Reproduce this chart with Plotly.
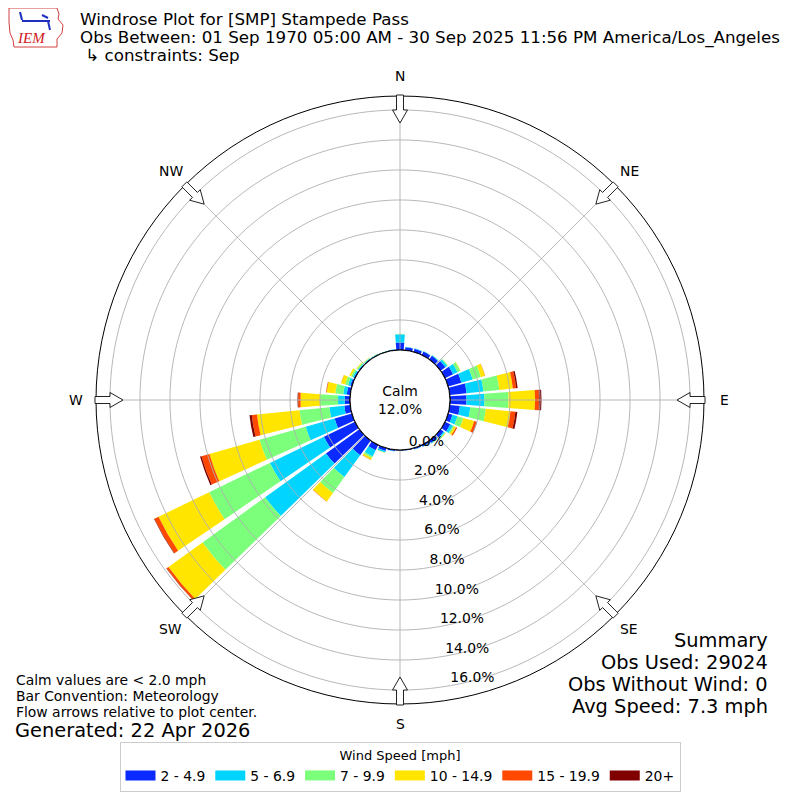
import math
import plotly.graph_objects as go

# ---------------- data ----------------
directions = [0, 10, 20, 30, 40, 50, 60, 70, 80, 90, 100, 110, 120, 130, 140, 150, 160, 170,
              180, 190, 200, 210, 220, 230, 240, 250, 260, 270, 280, 290, 300, 310, 320, 330, 340, 350]

speed_bins = ["2 - 4.9", "5 - 6.9", "7 - 9.9", "10 - 14.9", "15 - 19.9", "20+"]
speed_colors = ["#0a2aff", "#00d4ff", "#7cff7a", "#ffe500", "#ff4800", "#800000"]

# percent of observations per direction, per speed bin
s_2_5 = [0.50, 0.20, 0.22, 0.25, 0.30, 0.40, 0.60, 0.92, 1.13, 1.10, 0.68, 0.30, 0.39, 0.25, 0.20, 0.12, 0.08, 0.05,
         0.04, 0.08, 0.20, 0.39, 1.20, 2.75, 2.30, 1.20, 0.40, 0.35, 0.23, 0.12, 0.08, 0.06, 0.05, 0.04, 0.03, 0.04]
s_5_7 = [0.55, 0.03, 0.03, 0.03, 0.05, 0.15, 0.33, 0.78, 1.13, 1.20, 0.70, 0.35, 0.20, 0.10, 0.05, 0.03, 0.02, 0.01,
         0.01, 0.03, 0.10, 0.46, 1.80, 5.00, 4.00, 2.00, 1.00, 0.45, 0.24, 0.15, 0.10, 0.06, 0.04, 0.03, 0.02, 0.02]
s_7_10 = [0.02, 0.00, 0.00, 0.01, 0.02, 0.05, 0.20, 0.57, 1.06, 1.60, 1.04, 0.40, 0.08, 0.05, 0.02, 0.01, 0.00, 0.00,
          0.00, 0.00, 0.03, 0.12, 1.30, 5.15, 4.50, 3.20, 2.00, 1.20, 0.53, 0.20, 0.12, 0.08, 0.04, 0.02, 0.01, 0.00]
s_10_15 = [0.00, 0.00, 0.00, 0.00, 0.00, 0.01, 0.03, 0.28, 0.91, 1.77, 1.65, 0.76, 0.15, 0.03, 0.00, 0.00, 0.00, 0.00,
           0.00, 0.00, 0.01, 0.13, 0.70, 2.80, 3.75, 3.47, 2.85, 1.30, 0.58, 0.28, 0.12, 0.05, 0.02, 0.01, 0.00, 0.00]
s_15_20 = [0.00, 0.00, 0.00, 0.00, 0.00, 0.00, 0.00, 0.02, 0.22, 0.26, 0.33, 0.17, 0.08, 0.00, 0.00, 0.00, 0.00, 0.00,
           0.00, 0.00, 0.00, 0.01, 0.02, 0.15, 0.30, 0.55, 0.35, 0.15, 0.03, 0.01, 0.00, 0.00, 0.00, 0.00, 0.00, 0.00]
s_20p = [0.00, 0.00, 0.00, 0.00, 0.00, 0.00, 0.00, 0.00, 0.10, 0.17, 0.13, 0.03, 0.00, 0.00, 0.00, 0.00, 0.00, 0.00,
         0.00, 0.00, 0.00, 0.00, 0.00, 0.02, 0.03, 0.10, 0.15, 0.05, 0.01, 0.00, 0.00, 0.00, 0.00, 0.00, 0.00, 0.00]
series = [s_2_5, s_5_7, s_7_10, s_10_15, s_15_20, s_20p]

radial_ticks = [0, 2, 4, 6, 8, 10, 12, 14, 16]
radial_tick_text = ["%.1f%%" % v for v in radial_ticks]
radial_label_dir = 170
radial_max = 16.93
compass_angles = [0, 45, 90, 135, 180, 225, 270, 315]
compass_labels = ["N", "NE", "E", "SE", "S", "SW", "W", "NW"]

calm_pct = 12.0
title_lines = ["Windrose Plot for [SMP] Stampede Pass",
               "Obs Between: 01 Sep 1970 05:00 AM - 30 Sep 2025 11:56 PM America/Los_Angeles",
               " \u21b3 constraints: Sep"]
left_notes = ["Calm values are < 2.0 mph", "Bar Convention: Meteorology", "Flow arrows relative to plot center."]
generated = "Generated: 22 Apr 2026"
summary_lines = ["Summary", "Obs Used: 29024", "Obs Without Wind: 0", "Avg Speed: 7.3 mph"]

# ---------------- geometry (pixels of the 800x800 window) ----------------
W = H = 800
OFF = 8            # page body margin of the browser
CX, CY = 400, 400
R_OUT = 304
R_HOLE = 50
FONT = "DejaVu Sans"
F10 = 13.9
F12 = 16.7
F14 = 19.4


def px2paper(x, y):
    return (x - OFF) / W, 1 - (y - OFF) / H


fig = go.Figure()

for name, vals, col in zip(speed_bins, series, speed_colors):
    fig.add_trace(go.Barpolar(
        r=vals, theta=directions, width=[8.4] * len(directions), name=name,
        marker=dict(color=col, line=dict(width=0)), hoverinfo="skip", showlegend=False))

grid_col = "#b0b0b0"
circle_theta = list(range(0, 361, 2))
for rv in radial_ticks[1:]:
    fig.add_trace(go.Scatterpolar(r=[rv] * len(circle_theta), theta=circle_theta, mode="lines",
                                  line=dict(color=grid_col, width=0.9), showlegend=False,
                                  hoverinfo="skip", cliponaxis=False))
for a in compass_angles:
    fig.add_trace(go.Scatterpolar(r=[0, radial_max], theta=[a, a], mode="lines",
                                  line=dict(color=grid_col, width=0.9), showlegend=False,
                                  hoverinfo="skip", cliponaxis=False))
# calm circle edge
fig.add_trace(go.Scatterpolar(r=[0] * len(circle_theta), theta=circle_theta, mode="lines",
                              line=dict(color="black", width=1.1), showlegend=False,
                              hoverinfo="skip", cliponaxis=False))
# radial tick labels, placed on the radial scale
fig.add_trace(go.Scatterpolar(r=radial_ticks, theta=[radial_label_dir] * len(radial_ticks),
                              mode="text", text=radial_tick_text, textposition="top right",
                              textfont=dict(size=F10, family=FONT, color="black"),
                              showlegend=False, hoverinfo="skip", cliponaxis=False))
# legend swatches (wide rectangles)
for name, col in zip(speed_bins, speed_colors):
    fig.add_trace(go.Scatterpolar(r=[None], theta=[None], mode="lines", name=name,
                                  line=dict(color=col, width=10), hoverinfo="skip"))

cxp, cyp = px2paper(CX, CY)
half = R_OUT / W
fig.update_layout(
    width=W, height=H,
    margin=dict(l=0, r=0, t=0, b=0),
    paper_bgcolor="white",
    font=dict(family=FONT, color="black", size=F10),
    polar=dict(
        domain=dict(x=[cxp - half, cxp + half], y=[cyp - half, cyp + half]),
        bgcolor="white",
        hole=R_HOLE / R_OUT,
        barmode="stack",
        radialaxis=dict(range=[0, radial_max], tickvals=radial_ticks,
                        showticklabels=False, showgrid=False, showline=False, ticks=""),
        angularaxis=dict(rotation=90, direction="clockwise", showgrid=False,
                         showticklabels=False, ticks="", showline=True,
                         linecolor="black", linewidth=1),
    ),
    legend=dict(orientation="h", x=px2paper(400, 0)[0], xanchor="center",
                y=px2paper(0, 742)[1], yanchor="top",
                bordercolor="#cccccc", borderwidth=1, bgcolor="white",
                font=dict(size=F10, family=FONT),
                title=dict(text="Wind Speed [mph]", side="top center", font=dict(size=13, family=FONT)),
                traceorder="normal"),
)

annotations = []
shapes = []

# compass labels and flow arrows
for a, lab in zip(compass_angles, compass_labels):
    ra = math.radians(a)
    lx, ly = CX + 324 * math.sin(ra), CY - 324 * math.cos(ra)
    x, y = px2paper(lx, ly)
    annotations.append(dict(x=x, y=y, xref="paper", yref="paper", text=lab, showarrow=False,
                            xanchor="center", yanchor="middle", font=dict(size=F10, family=FONT)))
    pts = [(305, -3.5), (290, -3.5), (290, -7.5), (277, 0), (290, 7.5), (290, 3.5), (305, 3.5)]
    path = ""
    for i, (s, t) in enumerate(pts):
        qx = CX + s * math.sin(ra) + t * math.cos(ra)
        qy = CY - s * math.cos(ra) + t * math.sin(ra)
        X, Y = px2paper(qx, qy)
        path += ("M" if i == 0 else "L") + "%.5f,%.5f " % (X, Y)
    path += "Z"
    shapes.append(dict(type="path", path=path, xref="paper", yref="paper",
                       line=dict(color="#222222", width=1), fillcolor="white", layer="above"))

# calm text
annotations.append(dict(x=cxp, y=cyp, xref="paper", yref="paper",
                        text="Calm<br>%.1f%%" % calm_pct, showarrow=False,
                        font=dict(size=F10, family=FONT), align="center"))

# title lines
for txt, yy in zip(title_lines, [19, 37, 55]):
    x, y = px2paper(78, yy)
    annotations.append(dict(x=x, y=y, xref="paper", yref="paper", text=txt, showarrow=False,
                            xanchor="left", yanchor="middle", font=dict(size=F12, family=FONT)))

# bottom-left notes
for txt, yy in zip(left_notes, [680, 696, 712]):
    x, y = px2paper(14, yy)
    annotations.append(dict(x=x, y=y, xref="paper", yref="paper", text=txt, showarrow=False,
                            xanchor="left", yanchor="middle", font=dict(size=F10, family=FONT)))
x, y = px2paper(13, 730)
annotations.append(dict(x=x, y=y, xref="paper", yref="paper", text=generated, showarrow=False,
                        xanchor="left", yanchor="middle", font=dict(size=F14, family=FONT)))

# summary
for txt, yy in zip(summary_lines, [640, 662, 684, 706]):
    x, y = px2paper(770, yy)
    annotations.append(dict(x=x, y=y, xref="paper", yref="paper", text=txt, showarrow=False,
                            xanchor="right", yanchor="middle", font=dict(size=F14, family=FONT)))

# IEM logo (simplified)
iowa = [(9, 8), (57, 8), (59, 14), (58, 19), (63, 25), (62, 33), (57, 39), (57, 47), (14, 47),
        (13, 40), (10, 33), (9, 22)]
p = ""
for i, (qx, qy) in enumerate(iowa):
    X, Y = px2paper(qx, qy)
    p += ("M" if i == 0 else "L") + "%.5f,%.5f " % (X, Y)
p += "Z"
shapes.append(dict(type="path", path=p, xref="paper", yref="paper",
                   line=dict(color="#d04040", width=1), fillcolor="rgba(0,0,0,0)"))
for (xa, ya, xb, yb) in [(22, 21, 50, 21), (20, 12, 22, 20), (42, 15, 48, 18), (48, 21, 50, 30)]:
    X0, Y0 = px2paper(xa, ya)
    X1, Y1 = px2paper(xb, yb)
    shapes.append(dict(type="line", x0=X0, y0=Y0, x1=X1, y1=Y1, xref="paper", yref="paper",
                       line=dict(color="#2030c0", width=2)))
x, y = px2paper(31, 38)
annotations.append(dict(x=x, y=y, xref="paper", yref="paper", text="<i>IEM</i>", showarrow=False,
                        xanchor="center", yanchor="middle",
                        font=dict(size=15, family="Liberation Serif", color="#d02020")))

fig.update_layout(annotations=annotations, shapes=shapes)
fig.write_html("out.html")
